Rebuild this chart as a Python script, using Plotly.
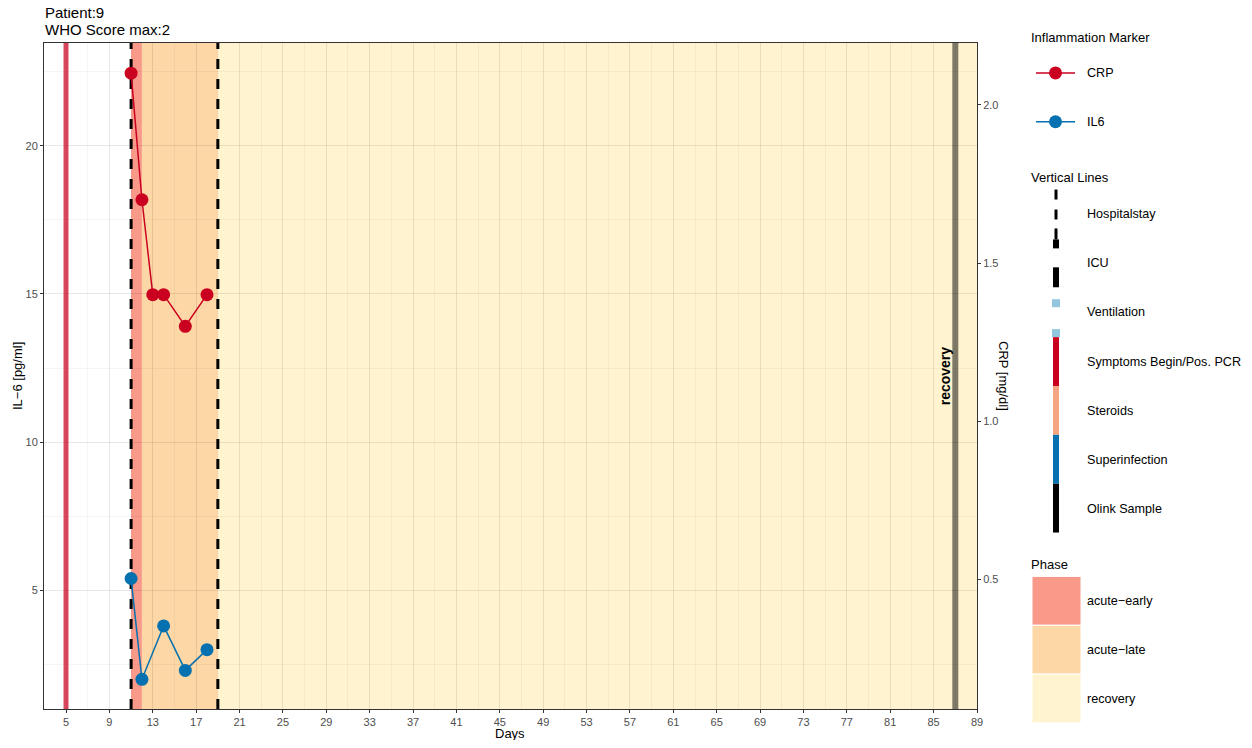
import plotly.graph_objects as go

# ---------------- data ----------------
crp_days = [11, 12, 13, 14, 16, 18]
crp_values = [2.1, 1.7, 1.4, 1.4, 1.3, 1.4]
il6_days = [11, 12, 14, 16, 18]
il6_values = [5.4, 2.0, 3.8, 2.3, 3.0]

phase_names = ["acute\u2212early", "acute\u2212late", "recovery"]
phase_start = [11, 12, 19]
phase_end = [12, 19, 89]
phase_colors = ["#F8998A", "#FDD7A5", "#FFF4CF"]

symptoms_days = [5]
hospital_days = [11, 19]
olink_days = [87]
olink_labels = ["recovery"]

x_ticks = list(range(5, 90, 4))
il6_ticks = [5, 10, 15, 20]
crp_ticks = [0.5, 1.0, 1.5, 2.0]

X_RANGE = [2.97, 89.0]
IL6_RANGE = [0.998, 23.464]
CRP_RANGE = [0.0903, 2.1954]

CRP_COLOR = "#CA0020"
IL6_COLOR = "#0571B0"
FONT = "Liberation Sans, Arial, sans-serif"
GRID = "rgba(0,0,0,0.05)"
GRID_MINOR = "rgba(0,0,0,0.04)"

# page offset (browser body margin) and panel position in reference pixels
OFF = 8
W, H = 1252 - 2 * OFF, 748 - 2 * OFF
L, R, T, B = 44, 977, 43, 711


def px(xp):
    return (xp - L) / (R - L)


def py(yp):
    return (B - yp) / (B - T)


fig = go.Figure()

# vertical event lines (drawn first so markers sit on top)
for d in symptoms_days:
    fig.add_trace(go.Scatter(x=[d, d], y=IL6_RANGE, mode="lines", hoverinfo="skip",
                             line=dict(color="rgba(202,0,32,0.72)", width=5), showlegend=False))
for d in olink_days:
    fig.add_trace(go.Scatter(x=[d, d], y=IL6_RANGE, mode="lines", hoverinfo="skip",
                             line=dict(color="rgba(0,0,0,0.5)", width=6), showlegend=False))
for d in hospital_days:
    fig.add_trace(go.Scatter(x=[d, d], y=IL6_RANGE, mode="lines", hoverinfo="skip",
                             line=dict(color="black", width=3, dash="10px,10px"), showlegend=False))

fig.add_trace(go.Scatter(x=crp_days, y=crp_values, yaxis="y2", mode="lines+markers",
                         line=dict(color=CRP_COLOR, width=1.5),
                         marker=dict(color=CRP_COLOR, size=13), showlegend=False))
fig.add_trace(go.Scatter(x=il6_days, y=il6_values, yaxis="y", mode="lines+markers",
                         line=dict(color=IL6_COLOR, width=1.5),
                         marker=dict(color=IL6_COLOR, size=13), showlegend=False))

shapes = []
for s, e, c in zip(phase_start, phase_end, phase_colors):
    shapes.append(dict(type="rect", xref="x", yref="paper", x0=s, x1=e, y0=0, y1=1,
                       fillcolor=c, line=dict(width=0), layer="below"))

annotations = []
for d, lab in zip(olink_days, olink_labels):
    annotations.append(dict(x=d, y=0.5, xref="x", yref="paper", text="<b>" + lab + "</b>",
                            textangle=-90, showarrow=False, xshift=-10, xanchor="center",
                            yanchor="middle", font=dict(family=FONT, size=14, color="black")))

# title (two lines)
for yy, txt in [(12.5, "Patient:9"), (29, "WHO Score max:2")]:
    annotations.append(dict(x=px(44), y=py(yy), xref="paper", yref="paper", xanchor="left",
                            yanchor="middle", text=txt, showarrow=False, borderpad=0,
                            font=dict(family=FONT, size=15, color="black")))
# axis titles
annotations.append(dict(x=px(510), y=py(736), xref="paper", yref="paper", yanchor="middle",
                        xanchor="center", text="Days", showarrow=False,
                        font=dict(family=FONT, size=13, color="black")))
annotations.append(dict(x=px(17), y=0.5, xref="paper", yref="paper", text="IL\u22126 [pg/ml]",
                        xanchor="center", yanchor="middle",
                        textangle=-90, showarrow=False, font=dict(family=FONT, size=13, color="black")))
annotations.append(dict(x=px(1004), y=0.5, xref="paper", yref="paper", text="CRP [mg/dl]",
                        xanchor="center", yanchor="middle",
                        textangle=90, showarrow=False, font=dict(family=FONT, size=13, color="black")))


# ---------------- manual legend ----------------
def legtext(x, y, text, size=12.6):
    annotations.append(dict(x=px(x), y=py(y), xref="paper", yref="paper", xanchor="left",
                            yanchor="middle", text=text, showarrow=False, borderpad=0,
                            font=dict(family=FONT, size=size, color="black")))


def legline(x0, y0, x1, y1, color, width, dash="solid"):
    shapes.append(dict(type="line", xref="paper", yref="paper", x0=px(x0), x1=px(x1),
                       y0=py(y0), y1=py(y1), line=dict(color=color, width=width, dash=dash)))


def legrect(x0, y0, x1, y1, color, lw=0, lc="white"):
    shapes.append(dict(type="rect", xref="paper", yref="paper", x0=px(x0), x1=px(x1),
                       y0=py(y1), y1=py(y0), fillcolor=color, line=dict(width=lw, color=lc)))


LX = 1086
legtext(1030, 37, "Inflammation Marker", 13)
for yy, name, col in [(73, "CRP", CRP_COLOR), (122, "IL6", IL6_COLOR)]:
    legline(1036, yy, 1075, yy, col, 1.5)
    shapes.append(dict(type="circle", xref="paper", yref="paper", x0=px(1049), x1=px(1062),
                       y0=py(yy + 6.5), y1=py(yy - 6.5), fillcolor=col, line=dict(width=0)))
    legtext(LX, yy, name)

legtext(1030, 178, "Vertical Lines", 13)
kx = 1056
# Hospitalstay (dashed)
for a, b in [(190, 200), (210, 220), (229, 240)]:
    legline(kx, a, kx, b, "black", 3)
legtext(LX, 215, "Hospitalstay")
# ICU (long dash, thick)
for a, b in [(240, 249), (268, 288)]:
    legline(kx, a, kx, b, "black", 6)
legtext(LX, 264, "ICU")
# Ventilation (dotted, light blue)
for a, b in [(300, 308), (330, 338)]:
    legrect(kx - 4, a, kx + 4, b, "#92C5DE")
legtext(LX, 313, "Ventilation")
for (a, b), col, name in zip([(338, 387), (387, 436), (436, 485), (485, 534)],
                             [CRP_COLOR, "#F4A582", IL6_COLOR, "black"],
                             ["Symptoms Begin/Pos. PCR", "Steroids", "Superinfection", "Olink Sample"]):
    legline(kx, a, kx, b, col, 6)
    legtext(LX, (a + b) / 2 + 0.5, name)

legtext(1030, 566, "Phase", 13)
for i, (name, col) in enumerate(zip(phase_names, phase_colors)):
    y0 = 578 + 49 * i
    legrect(1032, y0, 1081, y0 + 49, col, lw=1, lc="white")
    legtext(LX, y0 + 25, name)

fig.update_layout(
    width=W, height=H,
    margin=dict(l=L - OFF, r=W - (R - OFF), t=T - OFF, b=H - (B - OFF), pad=0),
    paper_bgcolor="white", plot_bgcolor="white",
    showlegend=False,
    font=dict(family=FONT, color="#4D4D4D", size=11),
    shapes=shapes, annotations=annotations,
    xaxis=dict(range=X_RANGE, tickvals=x_ticks, ticktext=[str(v) for v in x_ticks],
               showgrid=True, gridcolor=GRID, gridwidth=1,
               minor=dict(dtick=2, tick0=3, showgrid=True, gridcolor=GRID_MINOR, gridwidth=1, ticks=""),
               ticks="outside", ticklen=3, tickcolor="#333333", tickfont=dict(size=11, color="#4D4D4D"),
               showline=True, linecolor="#333333", linewidth=1, mirror=True, zeroline=False),
    yaxis=dict(range=IL6_RANGE, tickvals=il6_ticks, ticktext=[str(v) for v in il6_ticks],
               showgrid=True, gridcolor=GRID, gridwidth=1,
               minor=dict(dtick=2.5, tick0=0, showgrid=True, gridcolor=GRID_MINOR, gridwidth=1, ticks=""),
               ticks="outside", ticklen=3, tickcolor="#333333", tickfont=dict(size=11, color="#4D4D4D"),
               showline=True, linecolor="#333333", linewidth=1, mirror=True, zeroline=False),
    yaxis2=dict(range=CRP_RANGE, overlaying="y", side="right",
                tickvals=crp_ticks, ticktext=["%.1f" % v for v in crp_ticks],
                showgrid=False, zeroline=False,
                ticks="outside", ticklen=3, tickcolor="#333333", tickfont=dict(size=11, color="#4D4D4D"),
                showline=True, linecolor="#333333", linewidth=1),
)

fig.write_html("out.html")
